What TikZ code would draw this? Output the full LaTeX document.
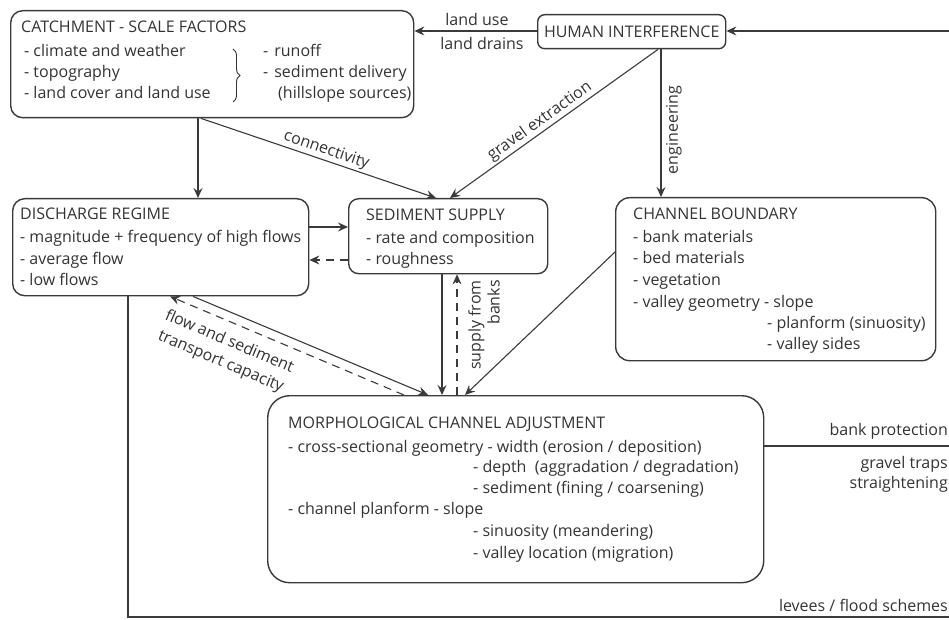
\documentclass[tikz,border=0pt]{standalone}
\usepackage{fontspec}
\setmainfont{Open Sans}
\usetikzlibrary{arrows.meta,decorations.pathreplacing}
\definecolor{lc}{HTML}{3A3A3A}
\definecolor{tc}{HTML}{333333}
\newcommand{\fs}{\fontsize{16}{21.5}\selectfont}
\tikzset{
  box/.style={draw=lc, line width=1.4pt, anchor=north west, inner sep=0pt},
  txt/.style={anchor=base west, inner sep=0pt, text=tc, font=\fs},
  lbl/.style={text=tc, font=\fs, inner sep=1.5pt},
  ln/.style={draw=lc, line width=1.1pt},
  arr/.style={ln, -{Stealth[length=10pt,width=9pt,inset=3.5pt]}},
  dsh/.style={arr, dash pattern=on 8pt off 6pt},
}
\begin{document}
\begin{tikzpicture}[x=1pt,y=-1pt]
\useasboundingbox (0,0) rectangle (949,620);
% boxes
\node[box, rounded corners=12pt, minimum width=403pt, minimum height=107pt] (catch) at (10,10) {};
\node[box, rounded corners=7pt, minimum width=188pt, minimum height=34pt] (human) at (537,14) {};
\node[box, rounded corners=12pt, minimum width=296pt, minimum height=97pt] (dis) at (12,198) {};
\node[box, rounded corners=10pt, minimum width=199pt, minimum height=75pt] (sed) at (348,198) {};
\node[box, rounded corners=14pt, minimum width=320pt, minimum height=163pt] (chb) at (615,197) {};
\node[box, rounded corners=22pt, minimum width=496pt, minimum height=187pt] (morph) at (267,395) {};

% catchment text
\node[txt] (cT) at (21,33) {CATCHMENT - SCALE FACTORS};
\node[txt] (c1) at (24,57) {- climate and weather};
\node[txt] (c2) at (24,78) {- topography};
\node[txt] (c3) at (24,99) {- land cover and land use};
\node[txt] (c4) at (263,57) {-\hspace{6pt}runoff};
\node[txt] (c5) at (263,78) {-\hspace{6pt}sediment delivery};
\node[txt] (c6) at (278,99) {(hillslope sources)};
\draw[draw=tc, line width=0.9pt, decorate, decoration={brace, amplitude=7pt}] (233,49) -- (233,102);

% human
\node[text=tc, font=\fs, inner sep=0pt] (hT) at (human.center) {HUMAN INTERFERENCE};

% discharge
\node[txt] (dT) at (20,220) {DISCHARGE REGIME};
\node[txt] (d1) at (20,242) {- magnitude + frequency of high flows};
\node[txt] (d2) at (20,264) {- average flow};
\node[txt] (d3) at (20,285) {- low flows};

% sediment
\node[txt] (sT) at (366,221) {SEDIMENT SUPPLY};
\node[txt] (s1) at (366,243) {- rate and composition};
\node[txt] (s2) at (366,264) {- roughness};

% channel boundary
\node[txt] (bT) at (633,220) {CHANNEL BOUNDARY};
\node[txt] (b1) at (633,242) {- bank materials};
\node[txt] (b2) at (633,263) {- bed materials};
\node[txt] (b3) at (633,285) {- vegetation};
\node[txt] (b4) at (633,307) {- valley geometry - slope};
\node[txt] (b5) at (767,328) {- planform (sinuosity)};
\node[txt] (b6) at (767,349) {- valley sides};

% morphological
\node[txt] (mT) at (288,428) {MORPHOLOGICAL CHANNEL ADJUSTMENT};
\node[txt] (m1) at (288,452) {- cross-sectional geometry - width (erosion / deposition)};
\node[txt] (m2) at (473,472) {- depth\ \ (aggradation / degradation)};
\node[txt] (m3) at (473,493) {- sediment (fining / coarsening)};
\node[txt] (m4) at (288,514) {- channel planform - slope};
\node[txt] (m5) at (473,536) {- sinuosity (meandering)};
\node[txt] (m6) at (473,558) {- valley location (migration)};

% edge coordinates
\coordinate (eTop) at (949,31);
\coordinate (eMid) at (949,446);
\coordinate (eBot) at (949,617);
\coordinate (bCorner) at (128,617);

% connectors
\draw[arr] (eTop) -- (human.east |- eTop);
\draw[arr] (human.west |- eTop) -- (catch.east |- eTop);
\node[lbl] (lu) at (477,20) {land use};
\node[lbl] (ld) at (482,44) {land drains};

\draw[arr] (human.south -| 658,0) -- node[lbl, sloped, above, pos=0.54] (ge) {gravel extraction} (sed.north -| 450,0);
\draw[arr] (human.south -| 661,0) -- (chb.north -| 661,0);
\node[lbl, rotate=90] (eng) at (674,130) {engineering};

\draw[arr] (catch.south -| 198,0) -- (dis.north -| 198,0);
\draw[arr] (catch.south -| 201,0) -- node[lbl, sloped, above, pos=0.52] (con) {connectivity} (sed.north -| 436,0);

\draw[arr] (dis.east |- 0,227) -- (sed.west |- 0,227);
\draw[dsh] (sed.west |- 0,260) -- (dis.east |- 0,260);

\draw[arr] (dis.south -| 193,0) -- (morph.north -| 428,0);
\draw[dsh] (morph.north -| 404,0) -- (dis.south -| 170,0);
\node[lbl, rotate=-23, align=center] (fst) at (225,352) {flow and sediment\\transport capacity};

\draw[arr] (sed.south -| 442,0) -- (morph.north -| 442,0);
\draw[dsh] (morph.north -| 457,0) -- (sed.south -| 457,0);
\node[lbl, rotate=90, align=right, font=\fontsize{16}{19}\selectfont] (sfb) at (484,325) {supply from\\banks};

\draw[arr] (chb.west |- 0,252) -- (morph.north -| 465,0);

% feedback lines to the right edge
\draw[ln] (morph.east |- eMid) -- (eMid);
\node[lbl, anchor=base east, inner sep=0pt] (bp) at (948,435) {bank protection};
\node[lbl, anchor=base east, inner sep=0pt] (gt) at (948,468) {gravel traps};
\node[lbl, anchor=base east, inner sep=0pt] (st) at (948,488) {straightening};
\draw[ln] (dis.south -| bCorner) -- (bCorner) -- (eBot);
\node[lbl, anchor=base east, inner sep=0pt] (lv) at (948,611) {levees / flood schemes};
\end{tikzpicture}
\end{document}
